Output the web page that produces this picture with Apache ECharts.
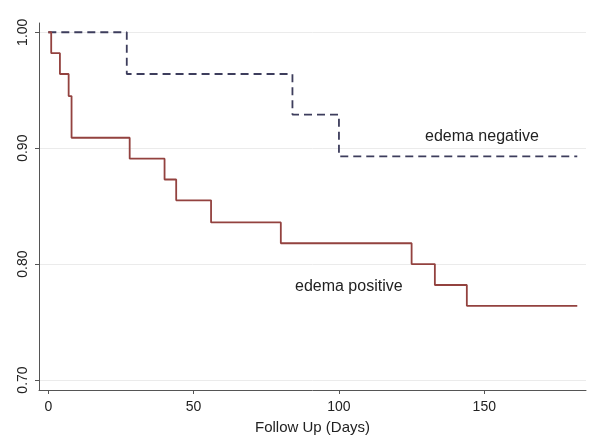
<!DOCTYPE html>
<html>
<head>
<meta charset="utf-8">
<script src="https://cdn.jsdelivr.net/npm/echarts@6/dist/echarts.min.js"></script>
<style>html,body{margin:0;padding:0;background:#fff;}#c{width:601px;height:447px;}</style>
</head>
<body>
<div id="c"></div>
<script>
// Kaplan-Meier survival estimates (step points: day, survival)
var negDays = [0, 27, 84, 100, 182];
var negSurv = [1.000, 0.964, 0.929, 0.893, 0.893];
var posDays = [0, 1, 4, 7, 8, 28, 40, 44, 56, 80, 125, 133, 144, 182];
var posSurv = [1.000, 0.982, 0.964, 0.945, 0.909, 0.891, 0.873, 0.855, 0.836, 0.818, 0.800, 0.782, 0.764, 0.764];
var xTicks = [0, 50, 100, 150];
var yTicks = [0.70, 0.80, 0.90, 1.00];
var negLabel = 'edema negative';
var posLabel = 'edema positive';
var xTitle = 'Follow Up (Days)';

function pairs(xs, ys) { return xs.map(function (x, i) { return [x, ys[i]]; }); }

var chart = echarts.init(document.getElementById('c'));
var FONT = 'Liberation Sans, Arial, sans-serif';
chart.setOption({
  animation: false,
  grid: { left: 39, right: 15, top: 23, bottom: 57, containLabel: false },
  xAxis: {
    type: 'value', min: -3.2, max: 185,
    name: xTitle, nameLocation: 'middle', nameGap: 30,
    nameTextStyle: { fontFamily: FONT, fontSize: 15, color: '#222' },
    axisLine: { show: true, onZero: false, lineStyle: { color: '#555', width: 1 } },
    axisTick: { show: true, length: 4, customValues: xTicks, lineStyle: { color: '#555' } },
    axisLabel: { customValues: xTicks, fontFamily: FONT, fontSize: 14, color: '#222', margin: 10 },
    splitLine: { show: false }
  },
  yAxis: {
    type: 'value', min: 0.6914, max: 1.008,
    axisLine: { show: true, onZero: false, lineStyle: { color: '#555', width: 1 } },
    axisTick: { show: true, length: 4, customValues: yTicks, lineStyle: { color: '#555' } },
    axisLabel: { customValues: yTicks, rotate: 90, fontFamily: FONT, fontSize: 14, color: '#222', margin: 9,
      formatter: function (v) { return v.toFixed(2); } },
    splitLine: { show: true, lineStyle: { color: '#ebebeb', width: 1 } }
  },
  series: [
    { type: 'line', step: 'end', data: pairs(negDays, negSurv), showSymbol: false,
      lineStyle: { color: '#3d3d5c', width: 1.8, type: [8, 5] } },
    { type: 'line', step: 'end', data: pairs(posDays, posSurv), showSymbol: false,
      lineStyle: { color: '#93423f', width: 1.8 } }
  ],
  graphic: [
    { type: 'text', left: 425, top: 129, style: { text: negLabel, font: '16px ' + FONT, fill: '#222' } },
    { type: 'text', left: 295, top: 279, style: { text: posLabel, font: '16px ' + FONT, fill: '#222' } }
  ]
});
</script>
</body>
</html>
